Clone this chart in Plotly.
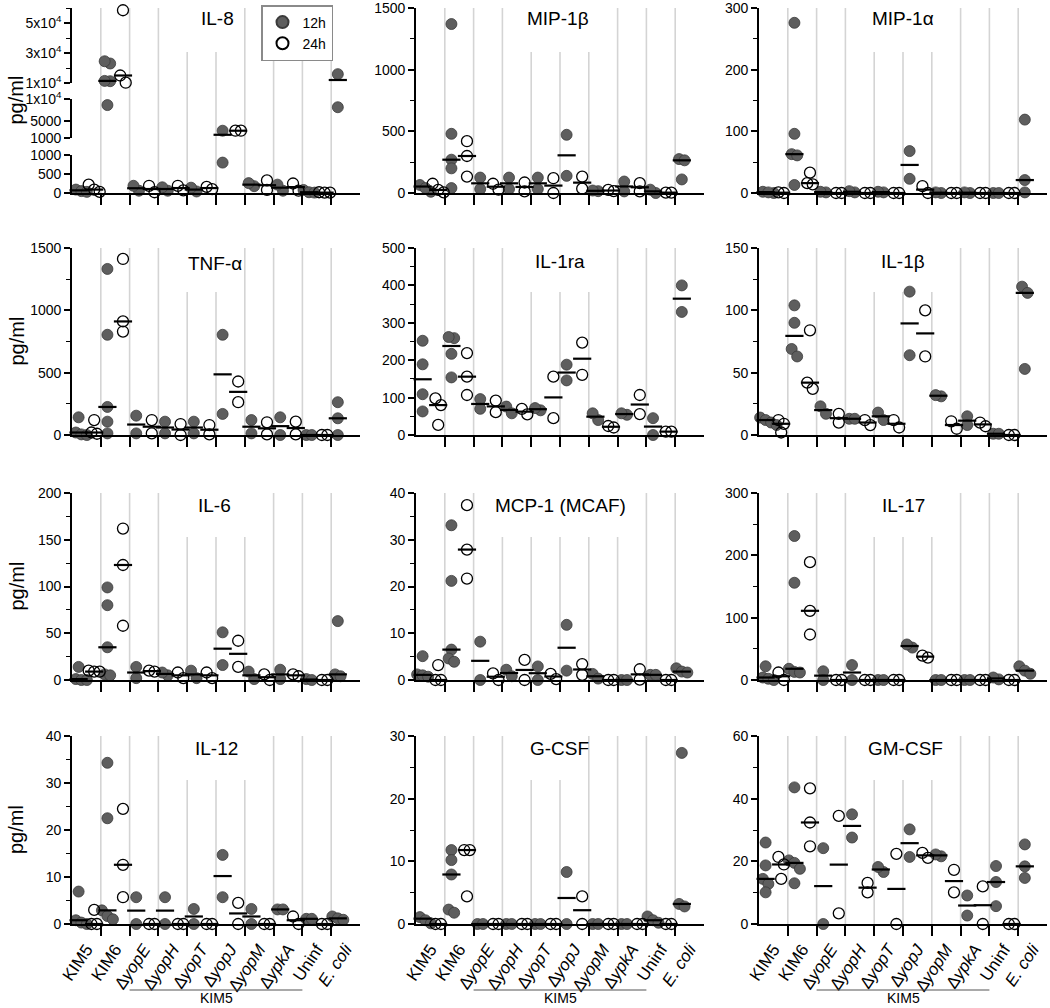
import numpy as np
import plotly.graph_objects as go

# ---------------- data (pg/ml), one list per group ----------------
GROUPS = ["KIM5", "KIM6", "∆<i>yopE</i>", "∆<i>yopH</i>", "∆<i>yopT</i>",
          "∆<i>yopJ</i>", "∆<i>yopM</i>", "∆<i>ypkA</i>", "Uninf", "<i>E. coli</i>"]
TITLES = ["IL-8", "MIP-1β", "MIP-1α", "TNF-α", "IL-1ra", "IL-1β",
          "IL-6", "MCP-1 (MCAF)", "IL-17", "IL-12", "G-CSF", "GM-CSF"]
SERIES = ["12h", "24h"]

IL8_12H = [[210, 90, 50, 30], [23000, 24500, 11200, 11400, 8600], [60, 190], [60, 150], [40, 140],
           [2680, 800], [180, 260], [60, 220], [80, 20, 10], [15900, 8100]]
IL8_24H = [[220, 90, 30], [58500, 15000, 10200], [20, 190], [70, 190], [100, 160],
           [2680, 2680], [80, 330], [60, 250], [20, 10, 10], []]

MIP1B_12H = [[65, 70, 10, 40], [1370, 480, 270, 200, 40], [125, 32], [125, 32], [125, 32],
             [472, 139], [15, 20], [93, 13], [0, 27], [275, 265, 110]]
MIP1B_24H = [[75, 25, 5], [420, 300, 133], [75, 27], [85, 13], [120, 0],
             [133, 35], [15, 25], [80, 13], [3, 3], []]

MIP1A_12H = [[5, 2, 0, 1], [276, 96, 63, 61, 13], [1, 2], [1, 3], [1, 2],
             [68, 23], [0, 1], [0, 1], [0, 0], [119, 21, 1]]
MIP1A_24H = [[1, 0], [33, 16, 14], [0, 0], [0, 0], [0, 0],
             [11, 0], [0, 0], [0, 0], [0, 0], []]

TNF_12H = [[142, 65, 20, 5, 0], [1332, 804, 225, 107, 13], [155, 13], [107, 13], [107, 13],
           [804, 169], [120, 13], [142, 0], [0, 0], [263, 134, 0]]
TNF_24H = [[120, 20, 10], [1412, 911, 830], [120, 13], [88, 0], [80, 5],
           [429, 263], [102, 5], [107, 5], [0, 0], []]

IL1RA_12H = [[252, 189, 109, 63], [259, 262, 217, 154], [96, 70], [76, 58], [66, 72],
             [188, 146], [40, 58], [54, 58], [45, 0], [400, 329]]
IL1RA_24H = [[98, 80, 27], [219, 156, 107], [92, 61], [70, 55], [156, 45],
             [247, 161], [20, 24], [107, 56], [9, 9], []]

IL1B_12H = [[18, 14, 12, 10, 8], [104, 90, 69, 63], [23, 17], [13, 13], [18, 12],
            [115, 64], [31, 32], [15, 8], [1, 1], [119, 114, 53]]
IL1B_24H = [[12, 9, 2], [84, 42, 37], [17, 10], [8, 12], [12, 6],
            [100, 63], [5, 11], [7, 10], [0, 0], []]

IL6_12H = [[14, 3, 1, 0, 0], [99, 80, 35, 6, 5], [14, 2], [5, 8], [2, 10],
           [51, 16], [1, 9], [1, 11], [1, 0], [63, 6, 4]]
IL6_24H = [[9, 9, 10], [162, 123, 58], [9, 10], [2, 8], [2, 8],
           [42, 14], [0, 6], [4, 6], [0, 0], []]

MCP1_12H = [[5.1, 1.2, 1.0, 0.7], [33.1, 21.2, 6.5, 4.6, 3.9], [8.2, 0], [2.2, 0.8], [2.9, 0],
            [11.8, 2.0], [1.3, 0.3], [0, 0], [1.1, 1.1], [2.5, 1.8, 1.6]]
MCP1_24H = [[3.2, 0, 0], [37.4, 27.9, 21.7], [1.4, 0], [4.3, 0], [0.2, 1.3],
            [3.4, 1.1], [0, 0], [2.3, 0.1], [0, 0], []]

IL17_12H = [[22, 6, 4, 2, 0], [231, 156, 18, 13, 12], [14, 0], [24, 0], [0, 0],
            [52, 57], [0, 0], [0, 0], [1, 4], [22, 15, 10]]
IL17_24H = [[12, 0], [189, 111, 73], [0, 0], [0, 0], [0, 0],
            [36, 39], [0, 0], [0, 0], [0, 0], []]

IL12_12H = [[6.9, 1.1, 0.8, 0.3, 0], [34.3, 22.5, 2.9, 1.7, 1.0], [5.7, 0], [5.7, 0], [3.2, 0],
            [14.7, 5.7], [3.2, 0], [3.1, 3.1], [1.1, 1.1], [1.6, 1.2, 0.9]]
IL12_24H = [[3.0, 0, 0], [24.5, 12.6, 5.7], [0, 0], [0, 0], [0, 0],
            [4.5, 0], [0, 0], [1.6, 0], [0, 0], []]

GCSF_12H = [[2.3, 1.1, 0.6, 0.1], [11.8, 10.2, 7.9, 2.3, 1.8], [0, 0], [0, 0], [0, 0],
            [8.3, 0], [0, 0], [0, 0], [1.2, 0.6, 0.2], [27.3, 3.2, 2.8]]
GCSF_24H = [[0, 0], [11.8, 11.8, 4.4], [0, 0], [0, 0], [0, 0],
            [4.4, 0], [0, 0], [0, 0], [0, 0], []]

GMCSF_12H = [[26, 18.7, 14.4, 12.8, 10.1], [43.6, 20.3, 19.5, 17.6, 13.0], [24.2, 0], [35, 27.6], [16.6, 18.2],
             [30.2, 21.4], [21.6, 22.2], [9.1, 2.7], [18.5, 13.4, 5.7], [25.4, 18.4, 14.7]]
GMCSF_24H = [[21.4, 19.0, 14.4], [43.3, 32.4, 24.8], [34.5, 3.4], [13.1, 10.1], [22.4, 0],
             [21.1, 22.7], [17.3, 10.1], [12, 0], [0, 0], []]

PANEL_DATA = [(IL8_12H, IL8_24H), (MIP1B_12H, MIP1B_24H), (MIP1A_12H, MIP1A_24H),
              (TNF_12H, TNF_24H), (IL1RA_12H, IL1RA_24H), (IL1B_12H, IL1B_24H),
              (IL6_12H, IL6_24H), (MCP1_12H, MCP1_24H), (IL17_12H, IL17_24H),
              (IL12_12H, IL12_24H), (GCSF_12H, GCSF_24H), (GMCSF_12H, GMCSF_24H)]

# ---------------- styling / layout ----------------
W, H = 1050, 1008
COLS = [(72, 360), (416, 704), (759, 1047)]
ROWS = [(8, 193), (248, 435), (493, 680), (736, 924)]
YMAX = [None, 1500, 300, 1500, 500, 150, 200, 40, 300, 40, 30, 60]
YSTEP = [None, 500, 100, 500, 100, 50, 50, 10, 100, 10, 10, 20]
# IL-8 broken axis segments: (lo, hi, bottom_px, top_px, tickvals, ticktext, minor dtick)
IL8_SEGS = [
    (0, 1000, 193, 155, [0, 500, 1000], ["0", "500", "1000"], None),
    (1000, 10000, 138, 99, [1000, 5000, 10000], ["1000", "5000", "1x10<sup>4</sup>"], None),
    (10000, 60000, 83, 8, [10000, 30000, 50000],
     ["1x10<sup>4</sup>", "3x10<sup>4</sup>", "5x10<sup>4</sup>"], 10000),
]
TITLE_POS = [(217, 18), (558, 18), (903, 18), (215, 264), (560, 262), (903, 262),
             (214, 505), (560, 505), (903, 505), (216, 748), (559, 748), (905, 748)]
SHORT_LINES = {0: [3, 4], 1: [3, 4, 5], 2: [3, 4, 5], 3: [3, 4], 4: [3, 4, 5], 5: [3, 4, 5],
               6: [3, 4, 5], 7: [2, 3, 4, 5, 6], 8: [3, 4, 5], 9: [3, 4, 5], 10: [3, 4], 11: [3, 4, 5]}
FONT = "Liberation Sans, Arial, Helvetica, sans-serif"
FILL = "#5e5e5e"
PX_PER_UNIT = 28.8
SUB_OFF = 0.27
MSIZE = 11


def fx(px):
    return px / W


def fy(py):
    return 1 - py / H


def seg_of(p, v):
    if p != 0:
        return 0
    if v <= 1000:
        return 0
    if v <= 10000:
        return 1
    return 2


def to_py(p, v):
    if p == 0:
        lo, hi, b, t = IL8_SEGS[seg_of(0, v)][:4]
        return b - (v - lo) / (hi - lo) * (b - t)
    yt, yb = ROWS[p // 3]
    return yb - v / YMAX[p] * (yb - yt)


def dodge(pys, thresh=8.0, step=5.5):
    n = len(pys)
    offs = np.zeros(n)
    order = sorted(range(n), key=lambda i: pys[i])
    rows = []
    for i in order:
        if rows and abs(pys[rows[-1][-1]] - pys[i]) < thresh:
            rows[-1].append(i)
        else:
            rows.append([i])
    for r in rows:
        k = len(r)
        for j, i in enumerate(r):
            offs[i] = (j - (k - 1) / 2) * step
    return offs


def yname_for(p, seg):
    if p == 0:
        return ["y", "y13", "y14"][seg]
    return f"y{p + 1}"


fig = go.Figure()
layout = {}
shapes = []
annotations = []

for p in range(12):
    r, c = divmod(p, 3)
    xl, xr = COLS[c]
    yt, yb = ROWS[r]
    xn = "x" if p == 0 else f"x{p + 1}"
    xkey = "xaxis" if p == 0 else f"xaxis{p + 1}"

    layout[xkey] = dict(
        domain=[fx(xl), fx(xr)], anchor=("y" if p == 0 else f"y{p + 1}"), automargin=False,
        range=[-0.5, 9.5], showline=True, linecolor="black", linewidth=1.6,
        showgrid=False, zeroline=False, tickmode="array", tickvals=list(range(10)),
        ticktext=GROUPS, ticks="", showticklabels=(r == 3), tickangle=-56,
        ticklabelstandoff=7, ticklabeloverflow="allow",
        tickfont=dict(size=17, color="black", family=FONT),
        minor=dict(tickmode="array", tickvals=[k + 0.5 for k in range(9)], ticks="outside",
                   ticklen=10, tickwidth=1.6, tickcolor="black", showgrid=False),
    )

    if p == 0:
        for s, (lo, hi, b, t, tv, tt, mdt) in enumerate(IL8_SEGS):
            key = ["yaxis", "yaxis13", "yaxis14"][s]
            ax = dict(domain=[fy(b), fy(t)], anchor="x", automargin=False, range=[lo, hi],
                      showline=True, linecolor="black", linewidth=1.6, ticks="outside", ticklen=6,
                      tickwidth=1.6, tickcolor="black", tickmode="array", tickvals=tv, ticktext=tt,
                      ticklabeloverflow="allow",
                      tickfont=dict(size=14, color="black", family=FONT),
                      showgrid=False, zeroline=False)
            if mdt:
                ax["minor"] = dict(tickmode="linear", tick0=0, dtick=mdt, ticks="outside",
                                   ticklen=4, tickwidth=1.2, tickcolor="black", showgrid=False)
            layout[key] = ax
    else:
        step = YSTEP[p]
        layout[f"yaxis{p + 1}"] = dict(
            domain=[fy(yb), fy(yt)], anchor=xn, automargin=False, range=[0, YMAX[p]], showline=True,
            linecolor="black", linewidth=1.6, ticks="outside", ticklen=6, tickwidth=1.6,
            tickcolor="black", tickmode="array", tickvals=list(np.arange(0, YMAX[p] + step / 2, step)),
            ticklabeloverflow="allow",
            tickfont=dict(size=14, color="black", family=FONT), showgrid=False, zeroline=False,
            minor=dict(tickmode="linear", tick0=0, dtick=step / 2, ticks="outside", ticklen=4,
                       tickwidth=1.2, tickcolor="black", showgrid=False),
        )

    # grey separators between groups
    for k in range(9):
        top = yt + 44 if k in SHORT_LINES[p] else yt
        shapes.append(dict(type="line", xref=xn, yref="paper", x0=k + 0.5, x1=k + 0.5,
                           y0=fy(yb), y1=fy(top), line=dict(color="#d4d4d4", width=1.6),
                           layer="below"))

    # points
    med_pts = {}
    for t_i, series in enumerate(PANEL_DATA[p]):
        segpts = {}
        for g, vals in enumerate(series):
            if not vals:
                continue
            center = g + (-SUB_OFF if t_i == 0 else SUB_OFF)
            pys = [to_py(p, v) for v in vals]
            offs = dodge(pys)
            for v, o in zip(vals, offs):
                s = seg_of(p, v)
                segpts.setdefault(s, ([], []))
                segpts[s][0].append(center + o / PX_PER_UNIT)
                segpts[s][1].append(v)
            m = float(np.median(vals))
            ms = seg_of(p, m)
            med_pts.setdefault(ms, ([], []))
            med_pts[ms][0].append(center)
            med_pts[ms][1].append(m)
        first = True
        for s, (xs, ys) in sorted(segpts.items()):
            if t_i == 0:
                marker = dict(symbol="circle", size=MSIZE, color=FILL,
                              line=dict(color="#3a3a3a", width=0.8))
            else:
                marker = dict(symbol="circle", size=MSIZE, color="rgba(255,255,255,0)",
                              line=dict(color="black", width=1.3))
            fig.add_trace(go.Scatter(
                x=xs, y=ys, mode="markers", marker=marker, name=SERIES[t_i],
                legendgroup=SERIES[t_i], showlegend=(p == 0 and first),
                xaxis=xn, yaxis=yname_for(p, s), cliponaxis=False, hoverinfo="skip"))
            first = False
    for s, (xs, ys) in sorted(med_pts.items()):
        fig.add_trace(go.Scatter(
            x=xs, y=ys, mode="markers", showlegend=False, xaxis=xn, yaxis=yname_for(p, s),
            marker=dict(symbol="line-ew", size=13, color="black", line=dict(color="black", width=2.2)),
            cliponaxis=False, hoverinfo="skip"))

    # panel title
    tx, ty = TITLE_POS[p]
    annotations.append(dict(text=TITLES[p], xref="paper", yref="paper", x=fx(tx), y=fy(ty),
                            xanchor="center", yanchor="middle", showarrow=False,
                            font=dict(size=19, color="black", family=FONT)))
    if c == 0:
        annotations.append(dict(text="pg/ml", xref="paper", yref="paper", x=fx(16),
                                y=fy((yt + yb) / 2), textangle=-90, xanchor="center",
                                yanchor="middle", showarrow=False,
                                font=dict(size=20, color="black", family=FONT)))
    if r == 3:
        shapes.append(dict(type="line", xref=xn, yref="paper", x0=1.5, x1=7.5,
                           y0=fy(990), y1=fy(990), line=dict(color="#555555", width=1.2)))
        annotations.append(dict(text="KIM5", xref=xn, yref="paper", x=4.5, y=fy(998),
                                xanchor="center", yanchor="middle", showarrow=False, borderpad=0,
                                font=dict(size=14, color="black", family=FONT)))

fig.update_layout(
    width=W, height=H, margin=dict(l=0, r=0, t=0, b=0, pad=0, autoexpand=False),
    paper_bgcolor="white", plot_bgcolor="rgba(0,0,0,0)",
    font=dict(family=FONT, color="black", size=14),
    shapes=shapes, annotations=annotations,
    legend=dict(x=fx(333), y=fy(5), xanchor="right", yanchor="top", bgcolor="white",
                bordercolor="#8a8a8a", borderwidth=1.5, font=dict(size=14, family=FONT),
                itemwidth=30, tracegroupgap=0, itemsizing="constant"),
    **layout,
)

fig.write_html("out.html", config={"displayModeBar": False},
               post_script="document.body.style.margin='0';document.body.style.overflow='hidden';")
